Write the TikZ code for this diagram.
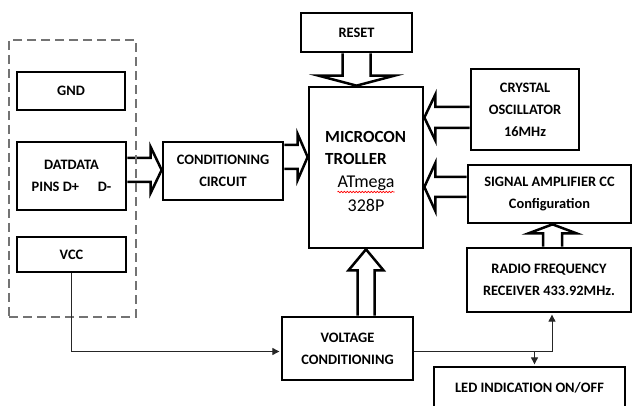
\documentclass[tikz,border=0pt]{standalone}
\usepackage{fontspec}
\setmainfont{Carlito}
\usetikzlibrary{calc,arrows.meta,decorations.pathmorphing}
\pgfdeclarelayer{bg}
\pgfsetlayers{bg,main}
\tikzset{
  box/.style={draw, line width=2.7pt, fill=white, inner sep=0pt, align=center,
    font=\bfseries\fontsize{14.4}{22}\selectfont},
  usbbox/.style={draw=black!55, line width=1.4pt, dash pattern=on 9pt off 5pt, inner sep=0pt},
  blk/.style={draw, line width=2.5pt, fill=white, line join=miter},
  wire/.style={draw=black!85, line width=0.9pt, -{Triangle[length=7pt,width=7pt]}},
  mcutxt/.style={font=\bfseries\fontsize{17}{20}\selectfont, inner sep=0pt},
  mcutxtr/.style={font=\fontsize{18}{20}\selectfont, inner sep=0pt},
}
\newcommand\blockarrow[5]{%
  \coordinate (ba-h) at ($(#2)!#5!(#1)$);
  \path[blk] ($(#1)!#3!90:(#2)$) -- ($(ba-h)!#3!90:(#2)$) -- ($(ba-h)!#4!90:(#2)$)
    -- (#2) -- ($(ba-h)!#4!-90:(#2)$) -- ($(ba-h)!#3!-90:(#2)$) -- ($(#1)!#3!-90:(#2)$);
}
\begin{document}
\begin{tikzpicture}[x=1pt,y=-1pt]
\useasboundingbox (0,0) rectangle (633,406);

% USB group
\node[usbbox, minimum width=127pt, minimum height=277pt] (usb) at (72.5,178.5) {};
\node[box, minimum width=108pt, minimum height=38pt] (gnd) at (71,91) {GND};
\node[box, minimum width=109pt, minimum height=68pt] (dat) at (71.5,176) {DATDATA\\PINS D+\hspace{1.3em}D-};
\node[box, minimum width=109pt, minimum height=35pt] (vcc) at (71.5,254.5) {VCC};

\node[box, minimum width=120pt, minimum height=58pt] (cond) at (223,171) {CONDITIONING\\CIRCUIT};
\node[box, minimum width=114pt, minimum height=161pt] (mcu) at (366,167.5) {};
\node[box, minimum width=111pt, minimum height=39pt] (reset) at (356.5,32.5) {RESET};
\node[box, minimum width=108pt, minimum height=81pt] (crys) at (525,109.5) {CRYSTAL\\OSCILLATOR\\16MHz};
\node[box, minimum width=163pt, minimum height=58pt] (sig) at (549.5,194) {SIGNAL AMPLIFIER CC\\Configuration};
\node[box, minimum width=164pt, minimum height=64pt] (rf) at (549,280) {RADIO FREQUENCY\\RECEIVER 433.92MHz.};
\node[box, minimum width=131pt, minimum height=63pt] (volt) at (347.5,348.5) {VOLTAGE\\CONDITIONING};
\node[box, minimum width=191pt, minimum height=44pt] (led) at (529.5,389) {\raisebox{4pt}{LED INDICATION ON/OFF}};

% microcontroller text
\node[mcutxt, anchor=base west] (mcu1) at (325,143) {MICROCON};
\node[mcutxt, anchor=base west] (mcu2) at (325,165) {TROLLER};
\node[mcutxtr, anchor=base] (mcu3) at (366,188) {ATmega};
\node[mcutxtr, anchor=base] (mcu4) at (366,212) {328P};
\draw[red, line width=0.6pt, decorate, decoration={snake, amplitude=0.8pt, segment length=3pt}]
  ($(mcu3.base west)+(0,4)$) -- ($(mcu3.base east)+(0,4)$);

% block arrows
\begin{pgfonlayer}{bg}
\coordinate (a1s) at ($(dat.east)+(0,-6)$);
\coordinate (a1t) at (cond.west |- a1s);
\blockarrow{a1s}{a1t}{12pt}{23pt}{11pt}
\coordinate (a2s) at ($(cond.east)+(0,-14)$);
\coordinate (a2t) at (mcu.west |- a2s);
\blockarrow{a2s}{a2t}{12pt}{23pt}{10pt}
\coordinate (a3s) at (reset.south);
\coordinate (a3t) at (reset.south |- mcu.north);
\blockarrow{a3s}{a3t}{14pt}{38pt}{10pt}
\coordinate (a4s) at ($(crys.west)+(0,8)$);
\coordinate (a4t) at (mcu.east |- a4s);
\blockarrow{a4s}{a4t}{10.5pt}{23pt}{11pt}
\coordinate (a5s) at ($(sig.west)+(0,-7)$);
\coordinate (a5t) at (mcu.east |- a5s);
\blockarrow{a5s}{a5t}{10pt}{24pt}{11pt}
\coordinate (a6s) at ($(rf.north)+(3.5,0)$);
\coordinate (a6t) at (a6s |- sig.south);
\blockarrow{a6s}{a6t}{9.5pt}{24pt}{9pt}
\coordinate (a7s) at (volt.north -| mcu.south);
\coordinate (a7t) at (mcu.south);
\blockarrow{a7s}{a7t}{8.5pt}{17.5pt}{21pt}
\end{pgfonlayer}

% thin wires
\coordinate (vin) at ($(volt.west)+(-1.3,3)$);
\draw[wire] (vcc.south) |- (vin);
\coordinate (vout) at ($(volt.east)+(0,2.5)$);
\coordinate (rfin) at ($(rf.south)+(3,1.3)$);
\draw[wire] (vout) -| (rfin);
\coordinate (ledin) at ($(led.north)+(5,-1.3)$);
\coordinate (br) at (ledin |- vout);
\draw[wire] (br) -- (ledin);
\end{tikzpicture}
\end{document}
